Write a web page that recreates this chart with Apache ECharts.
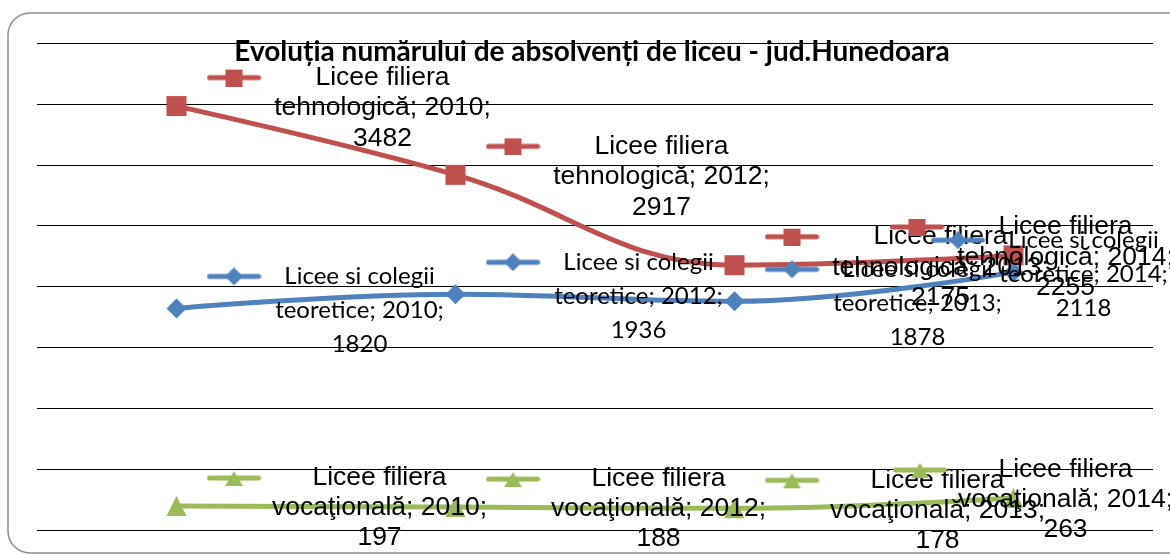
<!DOCTYPE html>
<html>
<head>
<meta charset="utf-8">
<script src="https://cdn.jsdelivr.net/npm/echarts@6/dist/echarts.min.js"></script>
<style>
  html, body { margin: 0; padding: 0; background: #fff; }
  #chart { width: 1170px; height: 555px; }
</style>
</head>
<body>
<div id="chart"></div>
<script>
// data
const years = ['2010', '2012', '2013', '2014'];
const tehnologica = [3482, 2917, 2175, 2255];
const teoretice = [1820, 1936, 1878, 2118];
const vocationala = [197, 188, 178, 263];
const seriesNames = ['Licee filiera tehnologică', 'Licee si colegii teoretice', 'Licee filiera vocaţională'];
const nameTop = ['Licee filiera', 'Licee si colegii', 'Licee filiera'];
const nameBottom = ['tehnologică', 'teoretice', 'vocaţională'];

const colors = ['#C0504D', '#4F81BD', '#9BBB59'];
const symbols = ['rect', 'diamond', 'triangle'];
// label look per series (excel mixes Arial and Calibri here)
const labelFont = ['Liberation Sans', 'Lato', 'Liberation Sans'];
const labelSize = [26.5, 24, 26.5];
const labelLine = [30.5, 34, 30];
const labelWidth = [226, 172, 220];
const keyGap = [8, 12, 8];
// last point's label is pushed back inside the chart
const lastShift = [-154, -113, -151];

// small legend key (line + marker) drawn next to each data label
function makeKey(color, shape) {
  const c = document.createElement('canvas');
  c.width = 55; c.height = 18;
  const g = c.getContext('2d');
  g.strokeStyle = color;
  g.lineWidth = 5;
  g.lineCap = 'round';
  g.beginPath(); g.moveTo(3, 9); g.lineTo(52, 9); g.stroke();
  g.fillStyle = color;
  g.beginPath();
  if (shape === 'rect') {
    g.rect(19, 1, 17, 17);
  } else if (shape === 'diamond') {
    g.moveTo(27.5, 0); g.lineTo(36.5, 9); g.lineTo(27.5, 18); g.lineTo(18.5, 9);
  } else {
    g.moveTo(27.5, 2); g.lineTo(36.5, 17); g.lineTo(18.5, 17);
  }
  g.closePath(); g.fill();
  return c;
}

const allData = [tehnologica, teoretice, vocationala];

const series = allData.map((vals, i) => {
  const txt = {
    width: labelWidth[i], align: 'center', color: '#000',
    fontFamily: labelFont[i], fontSize: labelSize[i], lineHeight: labelLine[i]
  };
  return {
    name: seriesNames[i],
    type: 'line',
    smooth: 0.4,
    symbol: symbols[i],
    symbolSize: 20,
    color: colors[i],
    lineStyle: { width: 5, color: colors[i] },
    itemStyle: { color: colors[i] },
    data: vals,
    label: {
      show: true,
      position: 'right',
      distance: 20,
      formatter: p => '{k|}{g|}{a|' + nameTop[i] + '}\n{s|}{a|' + nameBottom[i] + '; ' + p.name + ';}\n{s|}{a|' + p.value + '}',
      rich: {
        k: { width: 55, height: 18, lineHeight: labelLine[i], backgroundColor: { image: makeKey(colors[i], symbols[i]) } },
        g: { width: keyGap[i], lineHeight: labelLine[i] },
        s: { width: 55 + keyGap[i], lineHeight: labelLine[i] },
        a: txt
      }
    },
    labelLayout: p => ({
      dx: p.dataIndex === vals.length - 1 ? lastShift[i] : 0,
      dy: 2,
      hideOverlap: false
    }),
    emphasis: { disabled: true }
  };
});

const chart = echarts.init(document.getElementById('chart'));
chart.setOption({
  backgroundColor: '#fff',
  animation: false,
  title: {
    text: 'Evoluția numărului de absolvenți de liceu - jud.Hunedoara',
    left: 592,
    textAlign: 'center',
    top: 38,
    padding: 0,
    textStyle: { fontFamily: 'Lato', fontWeight: 'bold', fontSize: 28, color: '#000' }
  },
  graphic: [{
    type: 'rect',
    shape: { x: 8, y: 13, width: 1200, height: 540, r: 22 },
    style: { fill: 'none', stroke: '#8c8c8c', lineWidth: 1.5 },
    z: -1
  }],
  grid: { left: 37, right: 17, top: 43, bottom: 25 },
  xAxis: {
    type: 'category',
    data: years,
    boundaryGap: true,
    axisLine: { show: false },
    axisTick: { show: false },
    axisLabel: { show: false }
  },
  yAxis: {
    type: 'value',
    min: 0,
    max: 4000,
    interval: 500,
    axisLine: { show: false },
    axisTick: { show: false },
    axisLabel: { show: false },
    splitLine: { lineStyle: { color: '#000', width: 1 } }
  },
  series: series
});
</script>
</body>
</html>
